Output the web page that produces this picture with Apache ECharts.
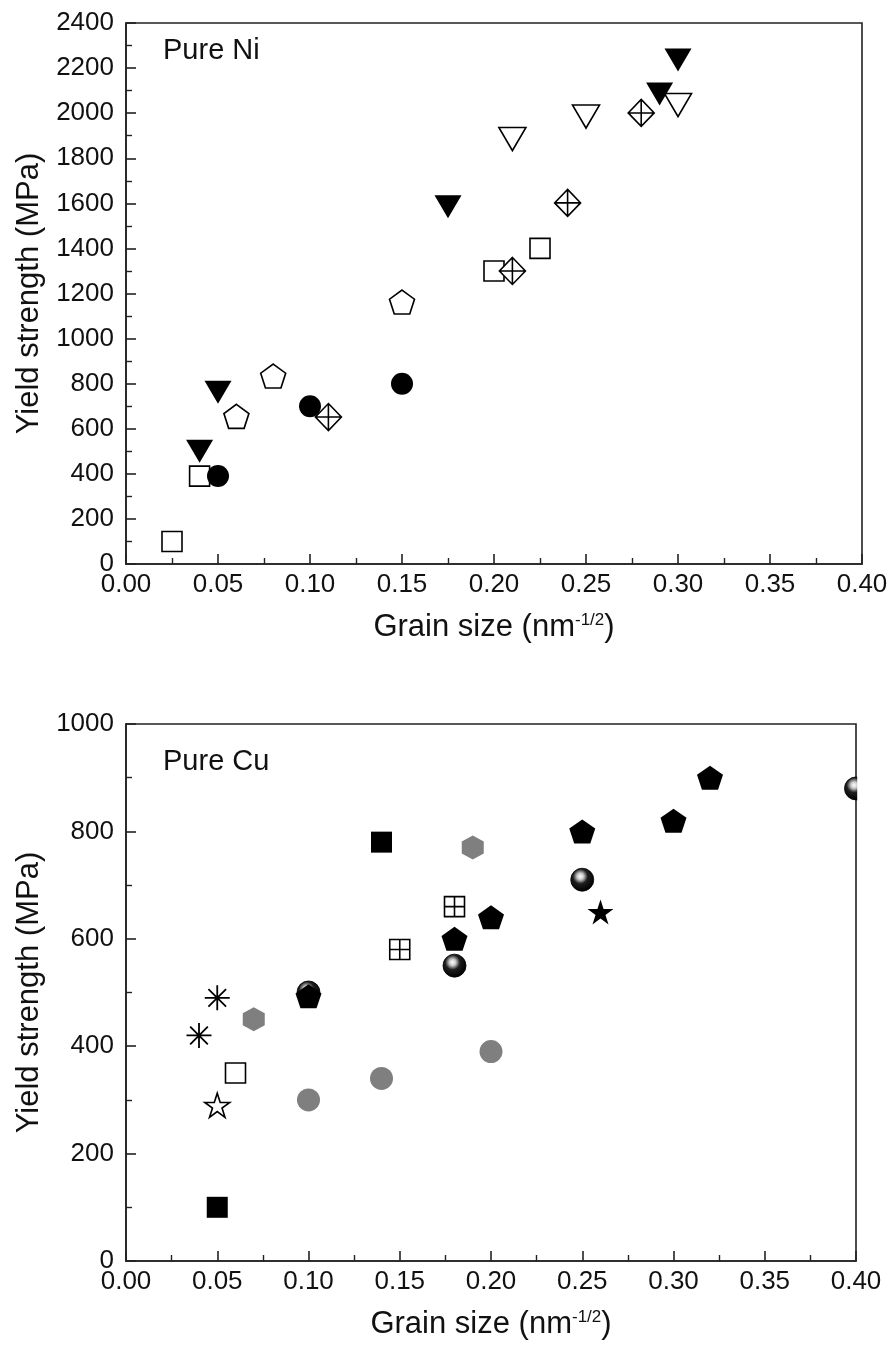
<!DOCTYPE html>
<html>
<head>
<meta charset="utf-8">
<script src="https://cdn.jsdelivr.net/npm/echarts@6/dist/echarts.min.js"></script>
<style>
html,body{margin:0;padding:0;background:#fff;}
#c{width:892px;height:1355px;}
</style>
</head>
<body>
<div id="c"></div>
<script>
// ---------- data: Pure Ni ----------
const niOpenSquare   = [[0.025,100],[0.04,390],[0.2,1300],[0.225,1400]];
const niFilledCircle = [[0.05,390],[0.1,700],[0.15,800]];
const niOpenTriDown  = [[0.21,1885],[0.25,1985],[0.30,2036]];
const niFilledTriDown= [[0.04,500],[0.05,762],[0.175,1585],[0.29,2085],[0.30,2236]];
const niOpenPentagon = [[0.06,655],[0.08,834],[0.15,1162]];
const niCrossDiamond = [[0.11,652],[0.21,1300],[0.24,1602],[0.28,2001]];

// ---------- data: Pure Cu ----------
const cuFilledSquare = [[0.05,100],[0.14,780]];
const cuGrayHexagon  = [[0.07,450],[0.19,770]];
const cuAsterisk     = [[0.04,420],[0.05,490]];
const cuOpenSquare   = [[0.06,350]];
const cuOpenStar     = [[0.05,290]];
const cuGrayCircle   = [[0.1,300],[0.14,340],[0.2,390]];
const cuGridSquare   = [[0.15,580],[0.18,660]];
const cuSphere       = [[0.1,500],[0.18,550],[0.25,710],[0.4,880]];
const cuFilledPentagon = [[0.1,493],[0.18,600],[0.2,640],[0.25,800],[0.3,820],[0.32,900]];
const cuFilledStar   = [[0.26,650]];

// ---------- axis settings ----------
const xTicks = {min:0, max:0.4, interval:0.05};
const niY = {min:0, max:2400, interval:200};
const cuY = {min:0, max:1000, interval:200};
const xTitle = '{n|Grain size (nm}{s|-1/2}{n|)}';
const yTitle = 'Yield strength (MPa)';

// ---------- symbols ----------
const SYM = {
  triDown: 'path://M0,0 L2,0 L1,1.7 Z',
  pentagon: 'path://M0,-1 L0.951,-0.309 L0.588,0.809 L-0.588,0.809 L-0.951,-0.309 Z',
  crossDiamond: 'path://M0,-1 L1,0 L0,1 L-1,0 Z M0,-1 L0,1 M-1,0 L1,0',
  hexagon: 'path://M0,-1 L0.866,-0.5 L0.866,0.5 L0,1 L-0.866,0.5 L-0.866,-0.5 Z',
  gridSquare: 'path://M-1,-1 L1,-1 L1,1 L-1,1 Z M0,-1 L0,1 M-1,0 L1,0',
  asterisk: 'path://M0,-1 L0,1 M-1,0 L1,0 M-0.707,-0.707 L0.707,0.707 M-0.707,0.707 L0.707,-0.707',
  star: 'path://M0,-1 L0.2245,-0.309 L0.951,-0.309 L0.363,0.118 L0.588,0.809 L0,0.382 L-0.588,0.809 L-0.363,0.118 L-0.951,-0.309 L-0.2245,-0.309 Z'
};
const FONT = "'Liberation Sans', Arial, sans-serif";
const INK = '#000';
const open = {color:'#fff', borderColor:INK, borderWidth:1.6, opacity:1};
const filled = {color:INK, borderColor:INK, borderWidth:0, opacity:1};
const gray = {color:'#7f7f7f', borderWidth:0, opacity:1};
const sphere = {
  color:{type:'radial', x:0.42, y:0.36, r:0.62, colorStops:[
    {offset:0,color:'#ffffff'},{offset:0.22,color:'#c8c8c8'},{offset:0.5,color:'#1e1e1e'},{offset:1,color:'#000'}]},
  borderColor:'#000', borderWidth:0.8, opacity:1
};

function s(name, idx, data, symbol, size, style){
  return {name, type:'scatter', xAxisIndex:idx, yAxisIndex:idx, data, symbol, symbolSize:size,
    itemStyle:style, emphasis:{disabled:true}, silent:true, clip:false};
}

function xAxis(idx){
  return {gridIndex:idx, type:'value', min:xTicks.min, max:xTicks.max, interval:xTicks.interval,
    name:xTitle, nameLocation:'middle', nameGap:48,
    nameTextStyle:{rich:{n:{fontFamily:FONT, fontSize:31, color:'#111'}, s:{fontFamily:FONT, fontSize:17, color:'#111', verticalAlign:'top', padding:[0,0,12,0]}}},
    axisLine:{show:true, onZero:false, lineStyle:{color:'#222', width:1.6}},
    axisTick:{show:true, inside:true, length:10, lineStyle:{color:'#222', width:1.6}},
    minorTick:{show:true, splitNumber:2, length:6, lineStyle:{color:'#222', width:1.4}},
    axisLabel:{fontFamily:FONT, fontSize:26, color:'#111', margin:8, formatter:v=>v.toFixed(2)},
    splitLine:{show:false}};
}
function yAxis(idx, cfg){
  return {gridIndex:idx, type:'value', min:cfg.min, max:cfg.max, interval:cfg.interval,
    name:yTitle, nameLocation:'middle', nameGap:80, nameRotate:90,
    nameTextStyle:{fontFamily:FONT, fontSize:31, color:'#111'},
    axisLine:{show:true, onZero:false, lineStyle:{color:'#222', width:1.6}},
    axisTick:{show:true, inside:true, length:10, lineStyle:{color:'#222', width:1.6}},
    minorTick:{show:true, splitNumber:2, length:6, lineStyle:{color:'#222', width:1.4}},
    axisLabel:{fontFamily:FONT, fontSize:26, color:'#111', margin:12, formatter:v=>String(v)},
    splitLine:{show:false}};
}

const chart = echarts.init(document.getElementById('c'), null, {renderer:'canvas'});
chart.setOption({
  animation:false,
  backgroundColor:'#fff',
  title:[
    {text:'Pure Ni', left:158, top:31, textStyle:{fontFamily:FONT, fontSize:29, fontWeight:'normal', color:'#111'}},
    {text:'Pure Cu', left:158, top:742, textStyle:{fontFamily:FONT, fontSize:29, fontWeight:'normal', color:'#111'}}
  ],
  grid:[
    {left:126, top:23, width:736, height:541, show:true, borderColor:'#222', borderWidth:1.6, backgroundColor:'transparent'},
    {left:126, top:724, width:730, height:537, show:true, borderColor:'#222', borderWidth:1.6, backgroundColor:'transparent'}
  ],
  xAxis:[xAxis(0), xAxis(1)],
  yAxis:[yAxis(0, niY), yAxis(1, cuY)],
  series:[
    s('Ni open square',0,niOpenSquare,'rect',20,open),
    s('Ni filled circle',0,niFilledCircle,'circle',22,filled),
    s('Ni open triangle',0,niOpenTriDown,SYM.triDown,[27,23],open),
    s('Ni filled triangle',0,niFilledTriDown,SYM.triDown,[27,23],filled),
    s('Ni open pentagon',0,niOpenPentagon,SYM.pentagon,[25,24],open),
    s('Ni crossed diamond',0,niCrossDiamond,SYM.crossDiamond,[26,27],open),

    s('Cu gray hexagon',1,cuGrayHexagon,SYM.hexagon,[22,24],gray),
    s('Cu gray circle',1,cuGrayCircle,'circle',23,gray),
    s('Cu filled square',1,cuFilledSquare,'rect',21,filled),
    s('Cu asterisk',1,cuAsterisk,SYM.asterisk,25,{color:'none', borderColor:INK, borderWidth:1.8, opacity:1}),
    s('Cu open square',1,cuOpenSquare,'rect',20,open),
    s('Cu open star',1,cuOpenStar,SYM.star,[25,24],open),
    s('Cu grid square',1,cuGridSquare,SYM.gridSquare,20,open),
    s('Cu sphere',1,cuSphere,'circle',23,sphere),
    s('Cu filled pentagon',1,cuFilledPentagon,SYM.pentagon,[26,24],filled),
    s('Cu filled star',1,cuFilledStar,SYM.star,[26,25],filled)
  ],
  graphic:[
    {type:'rect', z:100, silent:true, shape:{x:857.2, y:770, width:35, height:30}, style:{fill:'#fff'}}
  ]
});
</script>
</body>
</html>
